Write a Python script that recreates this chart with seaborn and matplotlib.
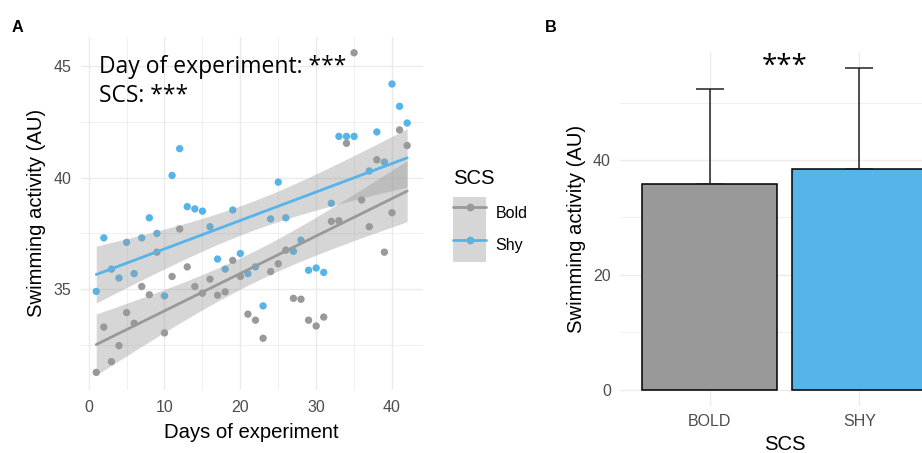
import numpy as np
import pandas as pd
import matplotlib
matplotlib.use("Agg")
import matplotlib.pyplot as plt
import seaborn as sns
from matplotlib.patches import Patch
from matplotlib.lines import Line2D
from matplotlib.legend_handler import HandlerTuple
from matplotlib.ticker import FixedLocator

# ---------------- data ----------------
bold_days = list(range(1, 43))
bold_activity = [31.27, 33.3, 31.75, 32.47, 33.95, 33.47, 35.12, 34.75, 36.66, 33.04,
                 35.57, 37.7, 36.0, 35.12, 34.82, 35.45, 34.73, 34.88, 36.29, 35.57,
                 33.88, 33.61, 32.8, 35.79, 36.14, 36.75, 34.59, 34.55, 33.61, 33.35,
                 33.75, 38.04, 38.07, 41.54, 45.6, 39.0, 37.8, 40.8, 36.66, 38.43,
                 42.14, 41.44]
shy_days = list(range(1, 36)) + list(range(37, 43))
shy_activity = [34.9, 37.3, 35.9, 35.5, 37.1, 35.7, 37.3, 38.2, 37.5, 34.7,
                40.1, 41.3, 38.7, 38.6, 38.5, 37.8, 36.35, 35.9, 38.55, 36.6,
                35.7, 36.0, 34.25, 38.15, 39.8, 38.2, 36.7, 37.2, 35.85, 35.95,
                35.75, 38.85, 41.85, 41.85, 41.85, 40.3, 42.05, 40.7, 44.2, 43.2, 42.45]
groups = ["Bold", "Shy"]

bar_categories = ["BOLD", "SHY"]
bar_means = [35.8, 38.4]
bar_upper = [52.3, 56.05]

x_ticks_a = [0, 10, 20, 30, 40]
y_ticks_a = [35, 40, 45]
y_ticks_b = [0, 20, 40]

annot_a = ["Day of experiment: ***", "SCS: ***"]
annot_b = "***"

# ---------------- style ----------------
GRAY = "#999999"
BLUE = "#56B4E9"
pal = {"Bold": GRAY, "Shy": BLUE}
bar_pal = {"BOLD": GRAY, "SHY": BLUE}
GRID = "#EBEBEB"
TICKC = "#4D4D4D"
sns.set_style("white")
plt.rcParams["font.family"] = ["Liberation Sans", "DejaVu Sans"]
plt.rcParams["text.color"] = "black"
plt.rcParams["axes.labelcolor"] = "black"
ANN_FONT = ["Open Sans", "DejaVu Sans"]

try:
    from scipy import stats as _st
    def tcrit(dfree):
        return float(_st.t.ppf(0.975, dfree))
except Exception:  # pragma: no cover
    def tcrit(dfree):
        return 1.96 + 2.4 / dfree

W, H = 922, 453
fig = plt.figure(figsize=(W / 100, H / 100), dpi=100)

def px_axes(left, top, right, bottom):
    return fig.add_axes([left / W, (H - bottom) / H, (right - left) / W, (bottom - top) / H])

axA = px_axes(80.7, 36.7, 422.7, 390)
axB = px_axes(620, 51.7, 949, 406)

# ---------------- panel A ----------------
df = pd.DataFrame({
    "day": bold_days + shy_days,
    "activity": bold_activity + shy_activity,
    "SCS": ["Bold"] * len(bold_days) + ["Shy"] * len(shy_days),
})
sns.scatterplot(data=df, x="day", y="activity", hue="SCS", palette=pal, s=28,
                linewidth=0, legend=False, ax=axA, zorder=2)
for i, g in enumerate(groups):
    sub = df[df["SCS"] == g]
    x = sub["day"].to_numpy(float)
    y = sub["activity"].to_numpy(float)
    n = len(x)
    b, a = np.polyfit(x, y, 1)
    resid = y - (a + b * x)
    s = np.sqrt(np.sum(resid ** 2) / (n - 2))
    xg = np.linspace(x.min(), x.max(), 120)
    se = s * np.sqrt(1 / n + (xg - x.mean()) ** 2 / np.sum((x - x.mean()) ** 2))
    yg = a + b * xg
    t = tcrit(n - 2)
    axA.fill_between(xg, yg - t * se, yg + t * se, color=GRAY, alpha=0.4,
                     linewidth=0, zorder=3 + 0.2 * i)
    nl = len(axA.lines)
    sns.regplot(data=sub, x="day", y="activity", scatter=False, ci=None,
                color=pal[g], line_kws={"lw": 2.0}, ax=axA)
    for ln in axA.lines[nl:]:
        ln.set_zorder(3.1 + 0.2 * i)

axA.set_xlim(-1.05, 44.05)
axA.set_ylim(30.48, 46.32)
axA.xaxis.set_major_locator(FixedLocator(x_ticks_a))
axA.xaxis.set_minor_locator(FixedLocator([5, 15, 25, 35]))
axA.yaxis.set_major_locator(FixedLocator(y_ticks_a))
axA.yaxis.set_minor_locator(FixedLocator([32.5, 37.5, 42.5]))
axA.grid(which="major", color=GRID, lw=1.0)
axA.grid(which="minor", color=GRID, lw=0.55)
axA.set_axisbelow(True)
for sp in axA.spines.values():
    sp.set_visible(False)
axA.tick_params(which="both", length=0, labelsize=11.5, labelcolor=TICKC)
axA.tick_params(axis="y", pad=6.5)
axA.tick_params(axis="x", pad=7.5)
axA.set_xlabel("Days of experiment", fontsize=14.6, va="baseline", color="black")
axA.set_ylabel("Swimming activity (AU)", fontsize=14.6, va="center", color="black")
axA.xaxis.set_label_coords(0.5, -0.1367)
axA.yaxis.set_label_coords(-0.1287, 0.5)

ax_left = (99 - 80.7) / 342
axA.text(ax_left, (390 - 72.7) / 353.3, annot_a[0], transform=axA.transAxes,
         fontsize=16.5, family=ANN_FONT, ha="left", va="baseline", color="black")
axA.text(ax_left, (390 - 101.7) / 353.3, annot_a[1], transform=axA.transAxes,
         fontsize=16.5, family=ANN_FONT, ha="left", va="baseline", color="black")

# legend (title drawn separately so the keys can start exactly below it)
fig.text(453.3 / W, 1 - 184 / H, "SCS", fontsize=14.6, ha="left", va="baseline",
         color="black")
handles = [(Patch(facecolor=GRAY, alpha=0.4, edgecolor="none"),
            Line2D([], [], color=pal[g], lw=2.0, marker="o", markersize=5.6,
                   markeredgewidth=0)) for g in groups]
leg = fig.legend(handles, groups, loc="upper left",
                 bbox_to_anchor=(453.3 / W, 1 - 196.7 / H), frameon=False,
                 borderpad=0, borderaxespad=0, labelspacing=0, handlelength=2.03,
                 handleheight=2.75, handletextpad=0.62, fontsize=11.5,
                 labelcolor="black",
                 handler_map={tuple: HandlerTuple(ndivide=1)})

# ---------------- panel B ----------------
dfb = pd.DataFrame({"SCS": bar_categories, "activity": bar_means})
sns.barplot(data=dfb, x="SCS", y="activity", hue="SCS", palette=bar_pal,
            saturation=1, width=0.9, edgecolor="black", linewidth=1.1,
            legend=False, ax=axB, zorder=2)
xpos = np.arange(len(bar_categories))
means = np.array(bar_means)
axB.errorbar(xpos, means, yerr=[np.zeros_like(means), np.array(bar_upper) - means],
             fmt="none", ecolor="#222222", elinewidth=1.1, capsize=10.4,
             capthick=1.1, zorder=3)
axB.set_xlim(-0.6, 1.6)
axB.set_ylim(-2.8, 58.85)
axB.yaxis.set_major_locator(FixedLocator(y_ticks_b))
axB.yaxis.set_minor_locator(FixedLocator([10, 30, 50]))
axB.grid(which="major", color=GRID, lw=1.0)
axB.grid(which="minor", axis="y", color=GRID, lw=0.55)
axB.set_axisbelow(True)
for sp in axB.spines.values():
    sp.set_visible(False)
axB.tick_params(which="both", length=0, labelsize=11.5, labelcolor=TICKC)
axB.tick_params(axis="y", pad=6.5)
axB.tick_params(axis="x", pad=6.0)
axB.set_xlabel("SCS", fontsize=14.6, va="baseline", color="black")
axB.set_ylabel("Swimming activity (AU)", fontsize=14.6, va="center", color="black")
axB.xaxis.set_label_coords(0.5, (406 - 450.5) / 354.3)
axB.yaxis.set_label_coords(-0.1307, 0.5)
axB.text(0.5, 55.0, annot_b, ha="center", va="baseline", fontsize=20,
         family=ANN_FONT, color="black")

# panel letters
fig.text(11.7 / W, 1 - 31.7 / H, "A", fontsize=11.7, weight="bold", va="baseline",
         color="black")
fig.text(545 / W, 1 - 31.7 / H, "B", fontsize=11.7, weight="bold", va="baseline",
         color="black")

fig.savefig("out.png", dpi=100)
